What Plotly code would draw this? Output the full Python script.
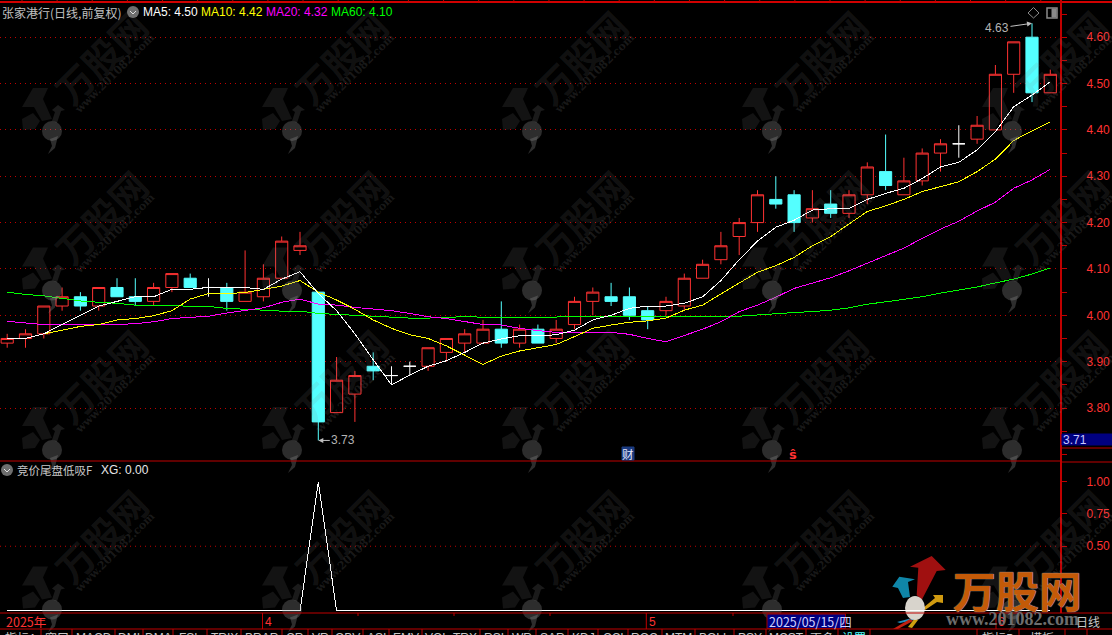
import plotly.graph_objects as go

W, H = 1112, 635
X0, STEP, AXIS_X = 7.2, 18.3, 1061

# ---- data ----------------------------------------------------------------
opens = [3.94,3.95,3.96,4.02,4.04,4.02,4.06,4.04,4.03,4.06,4.08,4.06,4.06,4.03,4.04,4.08,4.14,4.05,3.79,3.83,
         3.89,3.87,3.89,3.89,3.92,3.94,3.94,3.97,3.94,3.97,3.95,3.98,4.03,4.04,4.04,4.01,4.01,4.02,4.08,4.12,
         4.17,4.20,4.25,4.26,4.21,4.24,4.22,4.26,4.31,4.26,4.29,4.35,4.37,4.38,4.40,4.52,4.60,4.48]
highs = [3.96,3.97,4.02,4.06,4.05,4.06,4.08,4.08,4.07,4.09,4.09,4.08,4.07,4.14,4.11,4.17,4.18,4.05,3.91,3.88,
         3.92,3.89,3.90,3.93,3.95,3.97,3.99,4.03,3.98,3.98,3.99,4.04,4.06,4.07,4.06,4.02,4.04,4.09,4.12,4.18,
         4.21,4.27,4.30,4.27,4.27,4.27,4.27,4.33,4.39,4.34,4.36,4.38,4.41,4.43,4.54,4.59,4.63,4.53]
lows  = [3.93,3.93,3.95,4.01,4.01,4.01,4.04,4.02,4.02,4.05,4.06,4.04,4.01,4.03,4.03,4.08,4.13,3.73,3.79,3.77,
         3.86,3.85,3.87,3.88,3.90,3.92,3.94,3.93,3.93,3.94,3.94,3.97,4.00,4.02,3.99,3.97,4.00,4.01,4.08,4.11,
         4.13,4.18,4.23,4.18,4.20,4.21,4.21,4.24,4.27,4.26,4.28,4.31,4.34,4.37,4.40,4.48,4.46,4.48]
closes= [3.95,3.96,4.02,4.04,4.02,4.06,4.04,4.03,4.06,4.09,4.06,4.06,4.03,4.05,4.08,4.16,4.15,3.77,3.86,3.87,
         3.88,3.87,3.89,3.93,3.95,3.96,3.97,3.94,3.97,3.94,3.97,4.03,4.05,4.03,4.00,3.99,4.03,4.08,4.11,4.15,
         4.20,4.26,4.24,4.20,4.23,4.22,4.26,4.32,4.28,4.29,4.35,4.37,4.37,4.41,4.52,4.59,4.48,4.52]
ma5 = [3.950,3.950,3.960,3.980,4.000,4.020,4.030,4.040,4.040,4.056,4.056,4.060,4.060,4.060,4.056,4.078,4.094,4.047,4.010,3.960,
       3.904,3.850,3.871,3.890,3.902,3.920,3.940,3.949,3.956,3.956,3.958,3.968,3.990,4.000,4.015,4.020,4.020,4.026,4.040,4.075,
       4.120,4.160,4.190,4.205,4.227,4.230,4.230,4.250,4.263,4.274,4.295,4.320,4.330,4.357,4.396,4.450,4.475,4.504]
ma10 = [3.950,3.950,3.960,3.968,3.976,3.980,3.990,3.993,3.999,4.010,4.035,4.047,4.047,4.049,4.056,4.063,4.075,4.050,4.033,4.013,
        3.990,3.972,3.958,3.950,3.934,3.914,3.894,3.912,3.923,3.930,3.937,3.954,3.972,3.979,3.985,3.988,3.994,4.011,4.022,4.046,
        4.070,4.093,4.107,4.125,4.150,4.170,4.197,4.224,4.236,4.250,4.267,4.277,4.288,4.310,4.337,4.377,4.398,4.417]
ma20 = [3.987,3.983,3.980,3.980,3.980,3.980,3.980,3.982,3.986,3.993,3.995,3.998,4.005,4.011,4.016,4.028,4.035,4.024,4.022,4.017,
        4.013,4.010,4.004,3.997,3.993,3.986,3.980,3.979,3.972,3.967,3.963,3.963,3.963,3.963,3.959,3.950,3.943,3.957,3.970,3.986,
        4.008,4.022,4.039,4.058,4.069,4.081,4.096,4.112,4.128,4.145,4.166,4.186,4.203,4.225,4.244,4.274,4.292,4.315]
ma60 = [4.050,4.045,4.042,4.036,4.031,4.028,4.026,4.022,4.021,4.020,4.020,4.019,4.015,4.013,4.011,4.009,4.009,4.004,4.002,4.000,
        3.997,3.996,3.994,3.994,3.996,3.997,3.996,3.996,3.996,3.996,3.996,3.996,3.996,3.996,3.996,3.996,3.996,3.997,3.997,3.997,
        3.998,4.001,4.004,4.006,4.008,4.011,4.016,4.024,4.029,4.035,4.040,4.048,4.055,4.061,4.070,4.078,4.089,4.102]
xg = [0]*17 + [1] + [0]*40
price_ticks = [3.8,3.9,4.0,4.1,4.2,4.3,4.4,4.5,4.6]
xg_ticks = [0.5,0.75,1.0]
tab_labels = ["指标A","窗口","MACD","DMI","DMA","FSL","TRIX","BRAR","CR","VR","OBV","ASI","EMV","VOL-TRX",
              "RSI","WR","SAR","KDJ","CCI","ROC","MTM","BOLL","PSY","MCST","更多","设置"]
tab_right = [41,72,115,143,173,207,241,282,308,332,363,389,422,480,508,536,568,598,628,662,695,734,766,806,838,870]
right_labels = ["指标B","模板","+"]
right_edges = [977,1019,1065,1087]

# ---- pixel helpers --------------------------------------------------------
def px(x): return x / W
def py(y): return 1 - y / H
def poly(pts, dx=0, dy=0):
    return "M" + " L".join(f"{px(a+dx):.5f},{py(b+dy):.5f}" for a, b in pts) + " Z"

RED_LINE = "#c00000"
RED_TXT = "#ff3232"
CYAN = "#54ffff"
GRID = "#c00000"
FONT = "Liberation Sans, Arial, sans-serif"
CJK = "Noto Sans CJK SC, sans-serif"

days = list(range(len(closes)))
doji = [i for i in days if opens[i] == closes[i]]
bars = [i for i in days if opens[i] != closes[i]]

fig = go.Figure()
def candle(idx, up, dn, upfill, dnfill):
    fig.add_trace(go.Candlestick(
        x=idx, open=[opens[i] for i in idx], high=[highs[i] for i in idx],
        low=[lows[i] for i in idx], close=[closes[i] for i in idx],
        increasing=dict(line=dict(color=up, width=1), fillcolor=upfill),
        decreasing=dict(line=dict(color=dn, width=1), fillcolor=dnfill),
        whiskerwidth=0, hoverinfo="skip", showlegend=False, xaxis="x", yaxis="y"))
candle(bars, RED_TXT, CYAN, "#000000", CYAN)
candle(doji, "#ffffff", "#ffffff", "#ffffff", "#ffffff")

for vals, col in [(ma60, "#00ff00"), (ma20, "#ff00ff"), (ma10, "#ffff00"), (ma5, "#ffffff")]:
    fig.add_trace(go.Scatter(x=days, y=vals, mode="lines", line=dict(color=col, width=1),
                             hoverinfo="skip", showlegend=False, xaxis="x", yaxis="y"))
fig.add_trace(go.Scatter(x=days, y=xg, mode="lines", line=dict(color="#ffffff", width=1),
                         hoverinfo="skip", showlegend=False, xaxis="x2", yaxis="y2"))

shapes, ann = [], []
def hline(y, x0=0, x1=W, col=RED_LINE, w=1):
    shapes.append(dict(type="line", xref="paper", yref="paper", x0=px(x0), x1=px(x1), y0=py(y), y1=py(y),
                       line=dict(color=col, width=w), layer="above"))
def vline(x, y0, y1, col=RED_LINE, w=1):
    shapes.append(dict(type="line", xref="paper", yref="paper", x0=px(x), x1=px(x), y0=py(y0), y1=py(y1),
                       line=dict(color=col, width=w), layer="above"))
def rect(x0, y0, x1, y1, fill, line=None, layer="above"):
    shapes.append(dict(type="rect", xref="paper", yref="paper", x0=px(x0), x1=px(x1), y0=py(y0), y1=py(y1),
                       fillcolor=fill, line=dict(color=line or fill, width=1), layer=layer))
def text(x, y, s, col, size=12, anchor="left", family=FONT, **kw):
    ann.append(dict(x=px(x), y=py(y), xref="paper", yref="paper", text=s, showarrow=False,
                    xanchor=anchor, yanchor="middle", borderpad=0, borderwidth=0,
                    font=dict(color=col, size=size, family=family, **kw.pop("fontkw", {})), **kw))

# ---- watermark tiles, drawn over the marks with alpha ---------------------
WM = "rgba(130,130,130,0.15)"
WM2 = "rgba(130,130,130,0.2)"
BALL = "rgba(150,150,150,0.3)"
big = [(-19,-43),(-4,-43),(-9,-32),(0,-12),(-10,-10),(-18,-24),(-30,-24)]
left = [(-30,-12),(-19,-18),(-12,-10),(-17,-2),(-29,-1)]
small = [(0,-21),(6,-26),(13,-21),(9,-20),(5,-8),(0,-10),(3,-19)]
tail = [(-2,8),(6,5),(3,17),(-4,23),(0,15)]
p_dark, p_mid, p_ball = [], [], []
for j in range(5):
    for k in range(4):
        bx, by = 52 + 240*j, 131 + 159.5*k
        p_dark += [poly(big, bx, by), poly(left, bx, by)]
        p_mid.append(poly(small, bx, by))
        p_ball.append(poly(tail, bx, by))
        shapes.append(dict(type="circle", xref="paper", yref="paper", x0=px(bx-10), x1=px(bx+10), y0=py(by+10), y1=py(by-10),
                           fillcolor=BALL, line=dict(width=0), layer="above"))
        tx, ty = bx + 48, by - 74
        if ty > -30:
            ann.append(dict(x=px(tx), y=py(ty), xref="paper", yref="paper", text="<b>万股网</b>", showarrow=False, textangle=-45,
                            xanchor="center", yanchor="middle", font=dict(color=WM, size=37, family=CJK)))
        wx, wy = bx + 63, by - 57
        if wy > -30:
            ann.append(dict(x=px(wx), y=py(wy), xref="paper", yref="paper", text="<b>www.201082.com</b>", showarrow=False, textangle=-45,
                            xanchor="center", yanchor="middle", font=dict(color=WM2, size=11, family="DejaVu Serif, serif")))
for pth, col in [(p_dark, WM), (p_mid, WM2), (p_ball, BALL)]:
    shapes.append(dict(type="path", xref="paper", yref="paper", path=" ".join(pth), fillcolor=col, line=dict(width=0), layer="above"))

# ---- frame lines ----------------------------------------------------------
hline(2, col="#d00000", w=2)
for k in range(30):
    vline(22 + 35.13*k, 0, 2)
hline(461, 0, AXIS_X)
hline(448, AXIS_X, W)
hline(462, AXIS_X, W)
hline(613)
hline(629)
vline(AXIS_X, 0, 613, w=2)
for x in (358, 454, 550, 733):
    vline(x, 613, 616)
vline(262.5, 613, 629)
vline(646.3, 613, 629)
vline(996, 613, 629)
rect(1062, 434, 1112, 445, "#000080")
text(1063, 440, "3.71", "#c8c8ff", 12)

# dotted level in the lower pane
shapes.append(dict(type="line", xref="paper", yref="y2", x0=0, x1=px(AXIS_X), y0=0.5, y1=0.5,
                   line=dict(color=GRID, width=1, dash="1px,4px"), layer="below"))

# ---- header ---------------------------------------------------------------
text(2, 12, "张家港行(日线,前复权)", "#c0c0c0", 12, family=CJK)
shapes.append(dict(type="circle", xref="paper", yref="paper", x0=px(127), x1=px(139), y0=py(18), y1=py(6),
                   fillcolor="#6e6e6e", line=dict(width=0), layer="above"))
shapes.append(dict(type="path", xref="paper", yref="paper",
                   path=f"M{px(130)},{py(11)} L{px(133)},{py(14)} L{px(136)},{py(11)}", line=dict(color="#e0e0e0", width=1), layer="above"))
text(143, 12, "MA5: 4.50", "#ffffff")
text(201, 12, "MA10: 4.42", "#ffff00")
text(266, 12, "MA20: 4.32", "#ff00ff")
text(331, 12, "MA60: 4.10", "#00ff00")
shapes.append(dict(type="path", xref="paper", yref="paper",
                   path=f"M{px(1028)},{py(13)} L{px(1033.5)},{py(7.5)} L{px(1039)},{py(13)} L{px(1033.5)},{py(18)} Z",
                   line=dict(color="#8a8a8a", width=1), layer="above"))
shapes.append(dict(type="rect", xref="paper", yref="paper", x0=px(1047), x1=px(1057), y0=py(18), y1=py(8),
                   line=dict(color="#8a8a8a", width=1.5), layer="above"))
rect(1052, 9, 1056, 17, "#8a8a8a")

# lower pane header
shapes.append(dict(type="circle", xref="paper", yref="paper", x0=px(1), x1=px(13), y0=py(476), y1=py(464),
                   fillcolor="#6e6e6e", line=dict(width=0), layer="above"))
shapes.append(dict(type="path", xref="paper", yref="paper",
                   path=f"M{px(4)},{py(469)} L{px(7)},{py(472)} L{px(10)},{py(469)}", line=dict(color="#e0e0e0", width=1), layer="above"))
text(17, 470, "竞价尾盘低吸F", "#c8c8c8", 11.5, family=CJK)
text(101, 470, "XG: 0.00", "#e8e8e8")

# ---- event flags ----------------------------------------------------------
rect(622, 447, 634, 460, "#1a3a80")
text(628, 453.5, "财", "#e8e8ff", 11.5, "center", CJK)
text(792.5, 455, "<b>ŝ</b>", RED_TXT, 13, "center", "DejaVu Sans, sans-serif")

# ---- extreme labels, anchored on the data ---------------------------------
hi_i, lo_i = highs.index(max(highs)), lows.index(min(lows))
ann.append(dict(x=hi_i, y=max(highs), xref="x", yref="y", text=f"{max(highs):.2f}", ax=-35, ay=5,
                showarrow=True, arrowhead=2, arrowsize=1, arrowwidth=1, arrowcolor="#c0c0c0",
                font=dict(color="#b4b4b4", size=12, family=FONT)))
ann.append(dict(x=lo_i, y=min(lows), xref="x", yref="y", text=f"{min(lows):.2f}", ax=25, ay=0,
                showarrow=True, arrowhead=2, arrowsize=1, arrowwidth=1, arrowcolor="#c0c0c0",
                font=dict(color="#b4b4b4", size=12, family=FONT)))

# ---- date row -------------------------------------------------------------
text(6, 621.5, "2025年", RED_TXT, 12.5, family=CJK)
text(265, 621.5, "4", RED_TXT)
text(649, 621.5, "5", RED_TXT)
text(998, 621.5, "6", RED_TXT)
rect(767, 614, 845.5, 628.5, "#000080", "#a00000")
text(769, 621.5, "2025/05/15/四", "#d0d4ff", 12.5, family=CJK)

# ---- logo -----------------------------------------------------------------
logo = [("#a01010", [(931.7,556),(945.7,570),(936.7,571),(921.7,600),(916.7,595),(918.3,567.7),(910,566.7)]),
        ("#0f86a8", [(892.3,586.7),(899.3,576.7),(915,579.3),(908,582),(910,597),(903,598),(898,588)]),
        ("#d09a10", [(933,595),(943,595),(943,603),(937,602),(925,610),(923,608),(935,598)]),
        ("#2090c0", [(897,622),(912,618),(914,620),(900,623)]),
        ("#c02010", [(893,629),(910,619),(913,621),(898,629)]),
        ("#d0a010", [(908,627),(915,618),(918,620),(912,628)])]
for col, pts in logo:
    shapes.append(dict(type="path", xref="paper", yref="paper", path=poly(pts), fillcolor=col, line=dict(width=0), layer="below"))
shapes.append(dict(type="circle", xref="paper", yref="paper", x0=px(905), x1=px(925), y0=py(620), y1=py(596),
                   fillcolor="#d8d4cc", line=dict(width=0), layer="below"))
ann.append(dict(x=px(1017.5), y=py(589), xref="paper", yref="paper", text="<b>万股网</b>", showarrow=False,
                xanchor="center", yanchor="middle",
                font=dict(color="#c45a08", size=43, family=CJK, shadow="0 0 1px #a8a8a8, 0 0 1px #a8a8a8")))
ann.append(dict(x=px(1012.5), y=py(619), xref="paper", yref="paper", text="<b>www.201082.com</b>", showarrow=False,
                xanchor="center", yanchor="middle", font=dict(color="#6e6e6e", size=18, family="Liberation Serif, serif")))
text(1076, 621.5, "日线", "#c8c8c8", 12, family=CJK)

# ---- tab strip, cut by the window edge ------------------------------------
prev = 0
for lab, edge in zip(tab_labels, tab_right):
    vline(edge, 629, H)
    text((prev + edge)/2, 637.5, lab, CYAN if lab == "设置" else "#c8c8c8", 12, "center", CJK if ord(lab[0]) > 255 else FONT)
    prev = edge
for lab, a, b in zip(right_labels, right_edges[:-1], right_edges[1:]):
    text((a + b)/2, 637.5, lab, "#c8c8c8", 12, "center", CJK)
for e in right_edges:
    vline(e, 629, H)

# ---- axes -----------------------------------------------------------------
xr = [(0 - X0)/STEP, (AXIS_X - X0)/STEP]
P_TOP, P_BOT = 3, 461
def price_at(y): return 4 + (315.3 - y)/463.5
Q_TOP, Q_BOT = 462, 613
def xg_at(y): return (610.9 - y)/129.3

common_x = dict(range=xr, domain=[0, px(AXIS_X)], visible=False, fixedrange=True)
fig.update_layout(
    width=W, height=H, autosize=False, margin=dict(l=0, r=0, t=0, b=0, pad=0),
    paper_bgcolor="#000000", plot_bgcolor="#000000", showlegend=False, hovermode=False,
    boxgap=0.05, boxmode="overlay",
    font=dict(family=FONT, color="#c8c8c8"),
    xaxis=dict(anchor="y", rangeslider=dict(visible=False), **common_x),
    xaxis2=dict(anchor="y2", **common_x),
    yaxis=dict(anchor="x", domain=[py(P_BOT), py(P_TOP)], range=[price_at(P_BOT), price_at(P_TOP)], side="right",
               tickmode="array", tickvals=price_ticks, ticktext=[f"{v:.2f}" for v in price_ticks],
               tickfont=dict(color=RED_TXT, size=12, family=FONT), ticks="outside", ticklen=5, tickcolor=RED_LINE,
               ticklabelstandoff=17, showgrid=True, gridcolor=GRID, griddash="1px,4px", gridwidth=1,
               zeroline=False, showline=False, fixedrange=True,
               minor=dict(dtick=0.05, ticks="outside", ticklen=5, tickcolor=RED_LINE, showgrid=False)),
    yaxis2=dict(anchor="x2", domain=[py(Q_BOT), py(Q_TOP)], range=[xg_at(Q_BOT), xg_at(Q_TOP)], side="right",
                tickmode="array", tickvals=xg_ticks, ticktext=[f"{v:.2f}" for v in xg_ticks],
                tickfont=dict(color=RED_TXT, size=12, family=FONT), ticks="outside", ticklen=5, tickcolor=RED_LINE,
                ticklabelstandoff=17, showgrid=False, zeroline=False, showline=False, fixedrange=True),
    shapes=shapes, annotations=ann,
)

post = """
document.documentElement.style.margin='0';document.documentElement.style.background='#000';
document.documentElement.style.overflow='hidden';
document.body.style.margin='0';document.body.style.overflow='hidden';
document.querySelectorAll('.js-line').forEach(function(e){e.style.shapeRendering='crispEdges';});
"""
fig.write_html("out.html", config=dict(displayModeBar=False), post_script=post)
